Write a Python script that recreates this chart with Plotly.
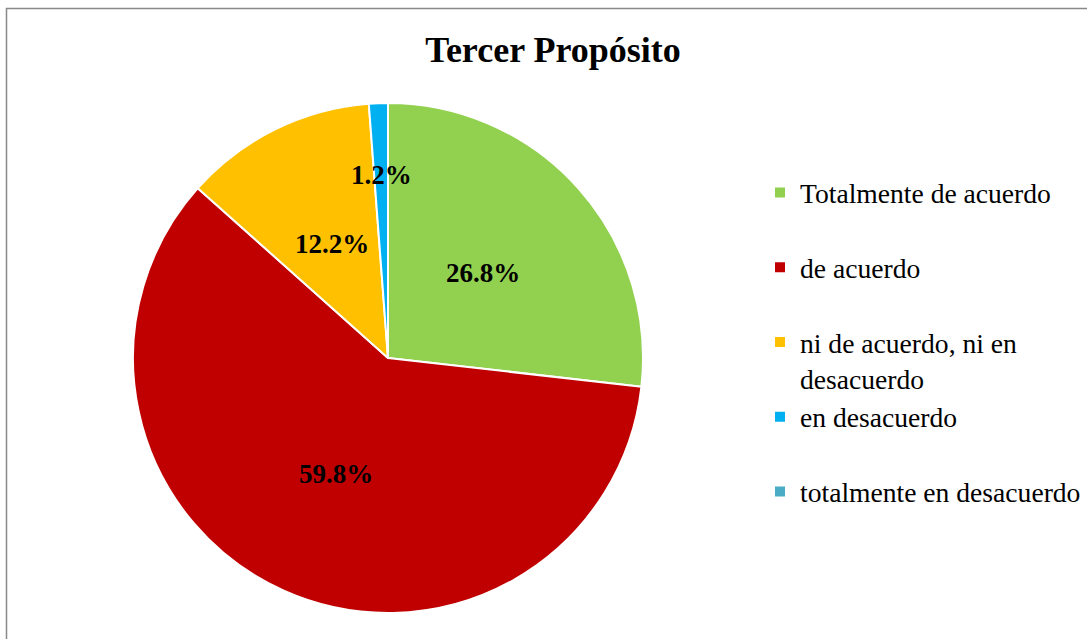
import math
import plotly.graph_objects as go

title = "Tercer Propósito"
categories = ["Totalmente de acuerdo", "de acuerdo", "ni de acuerdo, ni en<br>desacuerdo",
              "en desacuerdo", "totalmente en desacuerdo"]
values = [26.8, 59.8, 12.2, 1.2, 0.0]
colors = ["#92D050", "#C00000", "#FFC000", "#00B0F0", "#4BACC6"]

W, H = 1087, 639
cx, cy, R = 388, 358, 255

# legend entries: pad single-line labels to two lines so spacing matches
legend_labels = [c if "<br>" in c else c + "<br> " for c in categories]

fig = go.Figure()
fig.add_trace(go.Pie(
    labels=legend_labels,
    values=values,
    marker=dict(colors=colors, line=dict(color="white", width=2)),
    sort=False,
    direction="clockwise",
    rotation=0,
    textinfo="none",
    hoverinfo="label+percent",
    domain=dict(x=[(cx - R) / W, (cx + R) / W], y=[(H - cy - R) / H, (H - cy + R) / H]),
    showlegend=True,
))

# data labels positioned from the slice angles
total = sum(values)
cum = 0.0
annotations = []
for v in values:
    mid = (cum + v / 2) / total * 2 * math.pi
    cum += v
    if v <= 0:
        continue
    frac = 0.5 if v / total > 0.05 else 0.72
    x = cx + frac * R * math.sin(mid)
    y = cy - frac * R * math.cos(mid)
    annotations.append(dict(
        x=x / W, y=1 - y / H, xref="paper", yref="paper",
        text=f"<b>{v:.1f}%</b>", showarrow=False,
        font=dict(family="Liberation Serif", size=27, color="black"),
        xanchor="center", yanchor="middle"))

fig.update_layout(
    width=W, height=H,
    margin=dict(l=0, r=0, t=0, b=0),
    paper_bgcolor="white",
    title=dict(text=f"<b>{title}</b>", x=553 / W, xanchor="center",
               y=1 - 49 / H, yanchor="middle",
               font=dict(family="Liberation Serif", size=36, color="black")),
    legend=dict(x=760 / W, xanchor="left", y=1 - 168 / H, yanchor="top",
                valign="top", font=dict(family="Liberation Serif", size=27.6, color="black"),
                bgcolor="rgba(0,0,0,0)"),
    annotations=annotations,
    shapes=[dict(type="rect", xref="paper", yref="paper",
                 x0=6.5 / W, x1=1.2, y0=-0.2, y1=1 - 8.5 / H,
                 line=dict(color="#898989", width=1.5), fillcolor="rgba(0,0,0,0)")],
)

fig.write_html("out.html", config={"displayModeBar": False},
               post_script="document.body.style.margin='0';")
